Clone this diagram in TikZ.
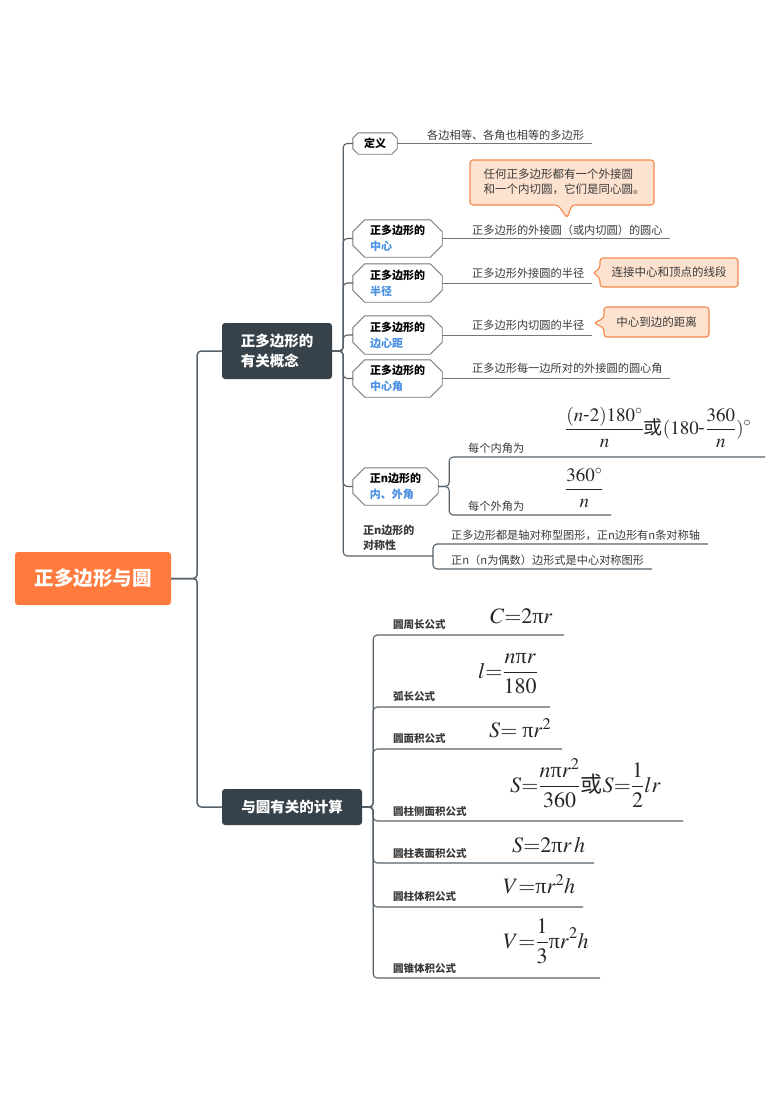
\documentclass[tikz,border=0pt]{standalone}
\usepackage{mathptmx}
\usepackage[no-math]{fontspec}
\setmainfont{Noto Sans CJK SC}
\newfontfamily\tms{Liberation Serif}
\newcommand{\upi}{\mbox{\tms π}}
\usetikzlibrary{calc}
\definecolor{rootc}{HTML}{FF7A3D}
\definecolor{darkc}{HTML}{36414A}
\definecolor{linec}{HTML}{56616A}
\definecolor{ulc}{HTML}{6E7880}
\definecolor{bluec}{HTML}{4A90E2}
\definecolor{txtc}{HTML}{3A3A3A}
\definecolor{calfill}{HTML}{FDE3CF}
\definecolor{calline}{HTML}{F4874B}
\begin{document}
\begin{tikzpicture}[x=1pt,y=-1pt,
  rootbox/.style={fill=rootc, rounded corners=3pt, text=white, font=\fontsize{19.5}{22}\selectfont\bfseries, minimum width=156pt, minimum height=53pt, inner sep=0},
  mainbox/.style={fill=darkc, rounded corners=3pt, text=white, font=\fontsize{14.5}{20}\selectfont\bfseries, inner sep=0, align=left},
  octo/.style={inner sep=0, align=left, font=\fontsize{11}{16}\selectfont\bfseries, text=black},
  octline/.style={draw=ulc, line width=0.9pt},
  trunk/.style={draw=linec, line width=1.5pt, rounded corners=4pt},
  conn/.style={draw=linec, line width=1.1pt, rounded corners=4pt},
  ul/.style={draw=ulc, line width=0.9pt},
  dtext/.style={font=\fontsize{11.2}{14}\selectfont, text=txtc, inner sep=0, anchor=base west},
  lab/.style={font=\fontsize{10.5}{13}\selectfont\bfseries, text=txtc, inner sep=0, anchor=base west},
  fml/.style={font=\fontsize{22}{26}\selectfont, text=black!85, inner sep=0, anchor=base west},
  fmls/.style={font=\fontsize{19}{23}\selectfont, text=black!85, inner sep=0, anchor=base west},
  callout/.style={fill=calfill, draw=calline, line width=1.1pt, rounded corners=3pt},
  caltext/.style={font=\fontsize{11.5}{15.5}\selectfont, text=txtc, inner sep=0, align=left}
]
\useasboundingbox (0,0) rectangle (780,1104);

% root and main topics
\node[rootbox] (root) at (93,578.5) {正多边形与圆};
\node[mainbox, minimum width=110pt, minimum height=56pt] (l1a) at (277,351) {正多边形的\\有关概念};
\node[mainbox, minimum width=140pt, minimum height=36pt] (l1b) at (292,807) {与圆有关的计算};
\draw[trunk] (root.east) -- ++(26,0) |- (l1a.west);
\draw[trunk] (root.east) -- ++(26,0) |- (l1b.west);

% octagon subtopics
\node[octo, minimum width=44pt, minimum height=21pt, align=center] (def) at (375,143.5) {定义};
\node[octo, minimum width=89pt, minimum height=37pt] (cen) at (397.5,238.5) {正多边形的\\\textcolor{bluec}{中心}};
\node[octo, minimum width=89pt, minimum height=38pt] (rad) at (397.5,283) {正多边形的\\\textcolor{bluec}{半径}};
\node[octo, minimum width=89pt, minimum height=38pt] (apo) at (397.5,335) {正多边形的\\\textcolor{bluec}{边心距}};
\node[octo, minimum width=89pt, minimum height=37pt] (cang) at (397.5,378.5) {正多边形的\\\textcolor{bluec}{中心角}};
\node[octo, minimum width=85pt, minimum height=37pt] (ang) at (395.5,486.5) {正n边形的\\\textcolor{bluec}{内、外角}};
\foreach \n/\c in {def/5.5,cen/12,rad/12,apo/12,cang/12,ang/12}{
  \draw[octline] ($(\n.north west)+(\c,0)$) -- ($(\n.north east)+(-\c,0)$) -- ($(\n.north east)+(0,\c)$)
    -- ($(\n.south east)+(0,-\c)$) -- ($(\n.south east)+(-\c,0)$) -- ($(\n.south west)+(\c,0)$)
    -- ($(\n.south west)+(0,-\c)$) -- ($(\n.north west)+(0,\c)$) -- cycle;
}
\node[octo, anchor=west, align=left, font=\fontsize{11}{15}\selectfont\bfseries, text=txtc] (sym) at (363,537.5) {正n边形的\\对称性};

% connectors from l1a
\foreach \n in {def,cen,rad,apo,cang,ang}{
  \draw[conn] (l1a.east) -- ++(11,0) |- (\n.west);
}
\coordinate (symj) at (433,556);
\draw[conn] (l1a.east) -- ++(11,0) |- (symj);

% underlines and texts
\coordinate (defu) at (592,143.5);
\coordinate (cenu) at (670,238.5);
\coordinate (radu) at (592,283);
\coordinate (apou) at (592,335);
\coordinate (cangu) at (670,378.5);
\draw[ul] (def.east) -- (defu);
\draw[ul] (cen.east) -- (cenu);
\draw[ul] (rad.east) -- (radu);
\draw[ul] (apo.east) -- (apou);
\draw[ul] (cang.east) -- (cangu);
\node[dtext] (deft) at (427,139) {各边相等、各角也相等的多边形};
\node[dtext] (cent) at (472,234) {正多边形的外接圆（或内切圆）的圆心};
\node[dtext] (radt) at (472,277) {正多边形外接圆的半径};
\node[dtext] (apot) at (472,329) {正多边形内切圆的半径};
\node[dtext] (cangt) at (472,372) {正多边形每一边所对的外接圆的圆心角};

% callouts
\path[callout] (470,160) -- (654,160) -- (654,205) -- (572,205) -- (567,218) -- (558,205) -- (470,205) -- cycle;
\node[caltext] (c1) at (564,182) {任何正多边形都有一个外接圆\\和一个内切圆，它们是同心圆。};
\path[callout] (600,258) -- (738,258) -- (738,287) -- (600,287) -- (600,278) -- (593,273) -- (600,268) -- cycle;
\node[caltext] (c2) at (669,272.5) {连接中心和顶点的线段};
\path[callout] (604,307) -- (709,307) -- (709,337) -- (604,337) -- (604,328) -- (594,323) -- (604,318) -- cycle;
\node[caltext] (c3) at (656.5,322) {中心到边的距离};

% interior / exterior angles
\coordinate (angu1) at (765,457);
\coordinate (angu2) at (611,515);
\draw[conn] (ang.east) -- ++(11,0) |- (angu1);
\draw[conn] (ang.east) -- ++(11,0) |- (angu2);
\node[dtext] (a1t) at (468,452) {每个内角为};
\node[dtext] (a2t) at (468,510) {每个外角为};
\node[fmls] (a1f) at (565,434) {$\displaystyle\frac{(n\mbox{-}2)180^\circ}{n}\mbox{或}(180\mbox{-}\frac{360}{n})^\circ$};
\node[fmls] (a2f) at (565,494) {$\displaystyle\frac{360^\circ}{n}$};

% symmetry
\coordinate (symu1) at (708,544);
\coordinate (symu2) at (652,569);
\draw[conn] (symj) |- (symu1);
\draw[conn] (symj) |- (symu2);
\node[dtext] (s1t) at (451,539) {正多边形都是轴对称型图形，正n边形有n条对称轴};
\node[dtext] (s2t) at (451,564) {正n（n为偶数）边形式是中心对称图形};

% calculations
\coordinate (b1u) at (564,635);
\coordinate (b2u) at (550,707);
\coordinate (b3u) at (562,749);
\coordinate (b4u) at (683,821);
\coordinate (b5u) at (594,863);
\coordinate (b6u) at (583,907);
\coordinate (b7u) at (600,978);
\foreach \u in {b1u,b2u,b3u,b4u,b5u,b6u,b7u}{
  \draw[conn] (l1b.east) -- ++(11,0) |- (\u);
}
\node[lab] (b1l) at (393,628) {圆周长公式};
\node[lab] (b2l) at (393,700) {弧长公式};
\node[lab] (b3l) at (393,742) {圆面积公式};
\node[lab] (b4l) at (393,815) {圆柱侧面积公式};
\node[lab] (b5l) at (393,857) {圆柱表面积公式};
\node[lab] (b6l) at (393,900) {圆柱体积公式};
\node[lab] (b7l) at (393,972) {圆锥体积公式};
\node[fml] (b1f) at (490,623) {$C{=}2\upi r$};
\node[fml] (b2f) at (478,678) {$\displaystyle l{=}\frac{n\upi r}{180}$};
\node[fml] (b3f) at (489,737) {$S{=}\;\upi r^2$};
\node[fml] (b4f) at (510,792) {$\displaystyle S{=}\frac{n\upi r^2}{360}\mbox{或}S{=}\frac{1}{2}lr$};
\node[fml] (b5f) at (512,852) {$S{=}2\upi r\,h$};
\node[fml] (b6f) at (503,893) {$V{=}\upi r^2h$};
\node[fml] (b7f) at (503,948) {$\displaystyle V{=}\frac{1}{3}\upi r^2h$};
\end{tikzpicture}
\end{document}
